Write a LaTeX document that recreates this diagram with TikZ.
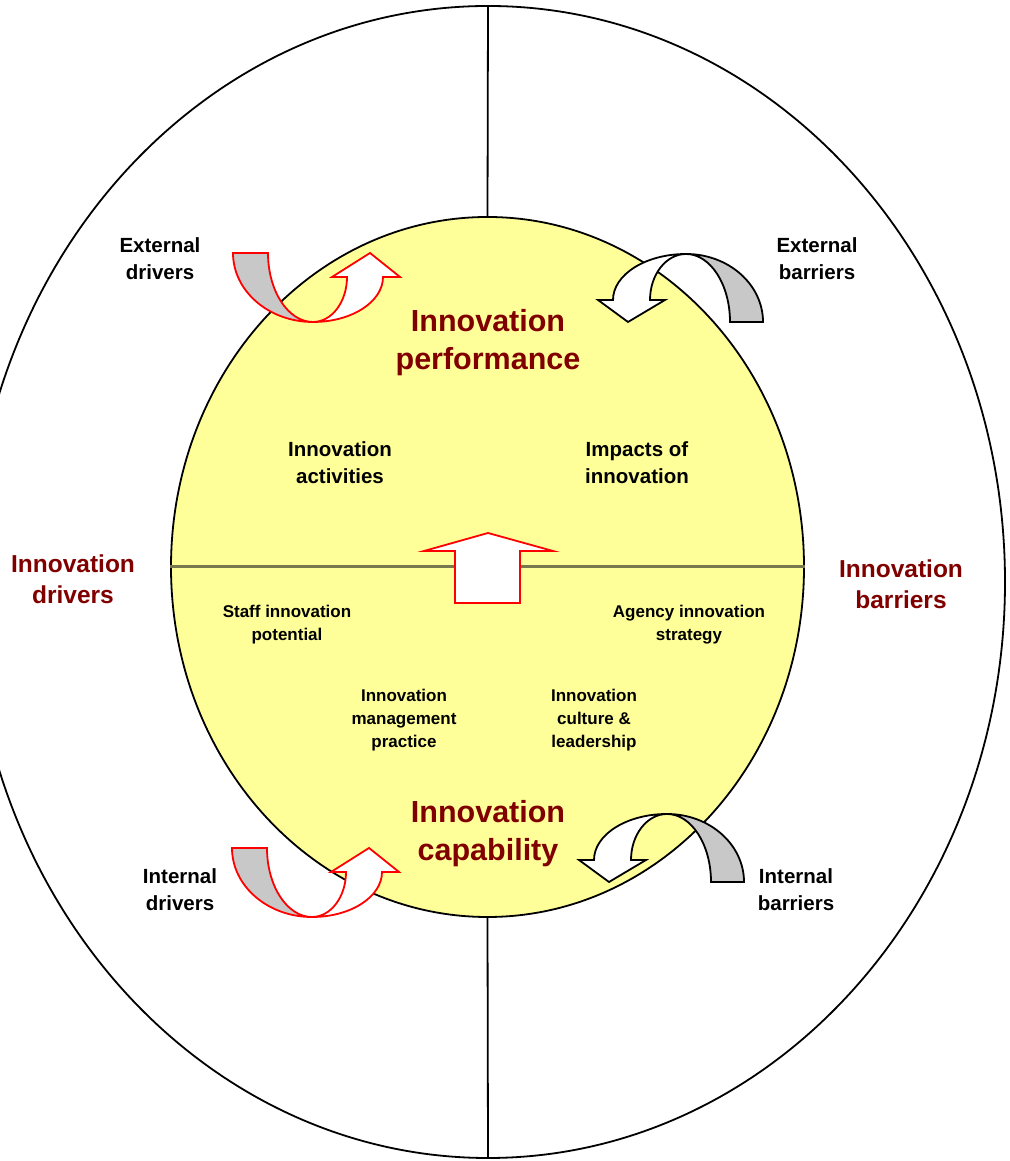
\documentclass[tikz,border=0pt]{standalone}
\usepackage{fontspec}
\setmainfont{Liberation Sans}
\usetikzlibrary{shapes.geometric}
\definecolor{innored}{RGB}{128,0,0}
\definecolor{coreyellow}{RGB}{255,255,153}
\definecolor{bandgray}{RGB}{200,200,200}
\definecolor{divline}{RGB}{120,120,80}
\tikzset{
  big/.style={text=innored, align=center, font=\fontsize{30.5}{38}\selectfont\bfseries},
  side/.style={text=innored, align=center, font=\fontsize{24.5}{31}\selectfont\bfseries},
  lbl/.style={align=center, font=\fontsize{20.5}{27}\selectfont\bfseries},
  small/.style={align=center, font=\fontsize{17}{23}\selectfont\bfseries},
  drvarrow/.pic={
    \filldraw[fill=bandgray, draw=red] (-80,69) arc[start angle=180, end angle=270, x radius=80, y radius=69]
      arc[start angle=270, end angle=180, x radius=45, y radius=69] -- cycle;
    \filldraw[fill=white, draw=red] (0,0) arc[start angle=270, end angle=360, x radius=70, y radius=45]
      -- (87,45) -- (57,69) -- (19,45) -- (34,45)
      arc[start angle=0, end angle=-90, x radius=34, y radius=45] -- cycle;
  },
  barrarrow/.pic={
    \filldraw[fill=bandgray] (0,0) arc[start angle=90, end angle=0, x radius=77, y radius=68]
      -- (44,-68) arc[start angle=0, end angle=90, x radius=44, y radius=68] -- cycle;
    \filldraw[fill=white] (0,0) arc[start angle=90, end angle=180, x radius=73, y radius=46]
      -- (-88,-46) -- (-58,-68) -- (-21,-46) -- (-36,-46)
      arc[start angle=180, end angle=90, x radius=36, y radius=46] -- cycle;
  }
}
\begin{document}
\begin{tikzpicture}[x=1pt, y=1pt, line width=1.8pt]
\useasboundingbox (0,0) rectangle (1009,1161);
% rings
\node[ellipse, draw, minimum width=1034pt, minimum height=1152pt, inner sep=0pt] (rim) at (488,579) {};
\node[ellipse, draw, fill=coreyellow, minimum width=633pt, minimum height=700pt, inner sep=0pt] (core) at (487.5,594) {};
\draw (rim.north) -- (core.north);
\draw (core.south) -- (rim.south);
\draw[divline, line width=3pt] (core.west) -- (core.east);
% up arrow
\filldraw[fill=white, draw=red] (455,558) -- (455,610) -- (424,610) -- (488,628) -- (553,610) -- (520,610) -- (520,558) -- cycle;
% curved arrows
\pic at (313,839) {drvarrow};
\pic at (312,244) {drvarrow};
\pic at (686,907) {barrarrow};
\pic at (667,347) {barrarrow};
% labels
\node[big] (perf) at (488,818) {Innovation\\performance};
\node[big] (capab) at (488,327) {Innovation\\capability};
\node[side] (drivers) at (73,582) {Innovation\\drivers};
\node[side] (barriers) at (901,577) {Innovation\\barriers};
\node[lbl] (activ) at (340,698) {Innovation\\activities};
\node[lbl] (impacts) at (637,698) {Impacts of\\innovation};
\node[lbl] (extdrv) at (160,902) {External\\drivers};
\node[lbl] (extbar) at (817,902) {External\\barriers};
\node[lbl] (intdrv) at (180,271) {Internal\\drivers};
\node[lbl] (intbar) at (796,271) {Internal\\barriers};
\node[small] (staff) at (287,536) {Staff innovation\\potential};
\node[small] (agency) at (689,536) {Agency innovation\\strategy};
\node[small] (mgmt) at (404,441) {Innovation\\management\\practice};
\node[small] (culture) at (594,441) {Innovation\\culture \&\\leadership};
\end{tikzpicture}
\end{document}
